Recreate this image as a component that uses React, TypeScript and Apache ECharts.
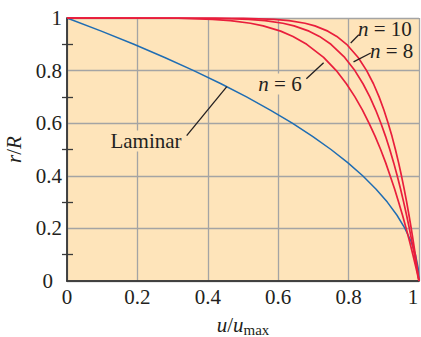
import React, { useEffect, useRef } from "react";
import * as echarts from "echarts";

// Laminar profile: r/R vs u/umax
const laminarR = [1, 0.95, 0.9, 0.85, 0.8, 0.75, 0.7, 0.65, 0.6, 0.55, 0.5, 0.45, 0.4, 0.35, 0.3, 0.25, 0.2, 0.15, 0.1, 0.05, 0];
const laminarU = [0, 0.0975, 0.19, 0.2775, 0.36, 0.4375, 0.51, 0.5775, 0.64, 0.6975, 0.75, 0.7975, 0.84, 0.8775, 0.91, 0.9375, 0.96, 0.9775, 0.99, 0.9975, 1];

// Turbulent profiles
const turbR = [1, 0.999, 0.995, 0.99, 0.98, 0.97, 0.95, 0.93, 0.9, 0.85, 0.8, 0.75, 0.7, 0.65, 0.6, 0.55, 0.5, 0.45, 0.4, 0.35, 0.3, 0.25, 0.2, 0.15, 0.1, 0.05, 0];
const n6U = [0, 0.316, 0.4135, 0.464, 0.521, 0.5574, 0.607, 0.642, 0.681, 0.729, 0.765, 0.7937, 0.818, 0.8395, 0.858, 0.8754, 0.891, 0.9052, 0.918, 0.9307, 0.942, 0.9532, 0.9635, 0.9733, 0.9826, 0.9915, 1];
const n8U = [0, 0.4217, 0.5157, 0.5623, 0.6133, 0.6451, 0.6877, 0.7172, 0.7499, 0.7889, 0.8178, 0.8409, 0.8603, 0.877, 0.8918, 0.905, 0.917, 0.928, 0.9381, 0.9476, 0.9564, 0.9647, 0.9725, 0.9799, 0.9869, 0.9936, 1];
const n10U = [0, 0.5012, 0.5887, 0.631, 0.6762, 0.7042, 0.7411, 0.7665, 0.7943, 0.8272, 0.8513, 0.8706, 0.8866, 0.9003, 0.9124, 0.9233, 0.933, 0.942, 0.9502, 0.9578, 0.965, 0.9716, 0.9779, 0.9839, 0.9895, 0.9949, 1];

// Leader lines (data coordinates)
const lamLeaderU = [0.34, 0.454];
const lamLeaderR = [0.553, 0.739];
const n6LeaderU = [0.68, 0.729];
const n6LeaderR = [0.769, 0.83];
const n8LeaderU = [0.814, 0.863];
const n8LeaderR = [0.833, 0.867];
const n10LeaderU = [0.806, 0.829];
const n10LeaderR = [0.905, 0.936];

const xTicks = [0, 0.2, 0.4, 0.6, 0.8, 1];
const yTicks = [0, 0.2, 0.4, 0.6, 0.8, 1];

const FONT = "'Liberation Serif', 'Times New Roman', serif";
const RED = "#e91e3c";
const BLUE = "#1f6db3";
const INK = "#231f20";
const BORDER = "#3a3a3a";
const GRID = "#a4a4a4";
const BG = "#fee4ba";

const pairs = (xs: number[], ys: number[]) => xs.map((x, i) => [x, ys[i]]);

export default function App() {
  const ref = useRef<HTMLDivElement>(null);
  useEffect(() => {
    document.body.style.margin = "0";
    if (!ref.current) return;
    const chart = echarts.init(ref.current, null, { renderer: "svg" });

    const curve = (data: number[][], color: string, width: number, z = 3) => ({
      type: "line",
      data,
      showSymbol: false,
      symbol: "none",
      clip: false,
      silent: true,
      z,
      lineStyle: { color, width },
    });

    const italicRich = {
      i: { fontFamily: FONT, fontStyle: "italic", fontSize: 21, color: INK },
    };

    const annText = (x: number, y: number, text: string, align: string, bg: boolean) => ({
      type: "text",
      x,
      y,
      z: 50,
      style: {
        text,
        fontFamily: FONT,
        fontSize: 21,
        fill: INK,
        align,
        verticalAlign: "middle",
        backgroundColor: bg ? BG : undefined,
        padding: bg ? [0, 2, 0, 2] : 0,
        rich: {
          i: { fontFamily: FONT, fontStyle: "italic", fontSize: 21, fill: INK, color: INK },
          t: { fontFamily: FONT, fontSize: 21, color: INK },
        },
      },
    });

    chart.setOption({
      animation: false,
      grid: {
        left: 67,
        right: 2,
        top: 18,
        bottom: 56,
        show: true,
        backgroundColor: BG,
        borderWidth: 0,
        containLabel: false,
        outerBoundsMode: "none",
      },
      xAxis: [
        {
          type: "value",
          min: xTicks[0],
          max: xTicks[xTicks.length - 1],
          interval: 0.2,
          position: "bottom",
          axisLine: { show: true, lineStyle: { color: BORDER, width: 1.5 } },
          axisTick: { show: false },
          splitLine: { show: true, lineStyle: { color: GRID, width: 1.3 } },
          axisLabel: {
            fontFamily: FONT,
            fontSize: 21,
            color: INK,
            margin: 5,
            formatter: (v: number) => (v === 1 ? "{o|1}" : String(v)),
            rich: { o: { fontFamily: FONT, fontSize: 21, color: INK, padding: [0, 12, 0, 0] } },
          },
          name: "{i|u}/{i|u}{s|max}",
          nameLocation: "middle",
          nameGap: 24,
          nameTextStyle: {
            fontFamily: FONT,
            fontSize: 21,
            color: INK,
            lineHeight: 26,
            rich: {
              i: { fontFamily: FONT, fontStyle: "italic", fontSize: 21, color: INK, lineHeight: 26 },
              s: { fontFamily: FONT, fontSize: 15, color: INK, lineHeight: 15, verticalAlign: "bottom" },
            },
          },
        },
        {
          type: "value",
          min: 0,
          max: 1,
          interval: 0.2,
          position: "top",
          axisLine: { show: true, lineStyle: { color: BORDER, width: 1.5 } },
          axisTick: { show: false },
          splitLine: { show: false },
          axisLabel: { show: false },
        },
      ],
      yAxis: [
        {
          type: "value",
          min: yTicks[0],
          max: yTicks[yTicks.length - 1],
          interval: 0.2,
          position: "left",
          axisLine: { show: true, lineStyle: { color: BORDER, width: 1.5 } },
          axisTick: { show: false, inside: true },
          minorTick: { show: true, splitNumber: 2, length: 6, lineStyle: { color: BORDER, width: 1.3 } },
          splitLine: { show: true, lineStyle: { color: GRID, width: 1.3 } },
          axisLabel: {
            fontFamily: FONT,
            fontSize: 21,
            color: INK,
            margin: 5,
            formatter: (v: number) => (v === 0 ? "{z|0}" : String(v)),
            rich: { z: { fontFamily: FONT, fontSize: 21, color: INK, padding: [0, 9, 0, 0] } },
          },
          name: "{i|r}/{i|R}",
          nameLocation: "middle",
          nameGap: 40,
          nameTextStyle: {
            fontFamily: FONT,
            fontSize: 21,
            color: INK,
            rich: italicRich,
          },
        },
        {
          type: "value",
          min: 0,
          max: 1,
          interval: 0.2,
          position: "right",
          axisLine: { show: true, lineStyle: { color: BORDER, width: 1.5 } },
          axisTick: { show: false, inside: true },
          minorTick: { show: true, splitNumber: 2, length: 5, lineStyle: { color: BORDER, width: 1.3 } },
          splitLine: { show: false },
          axisLabel: { show: false },
        },
      ],
      series: [
        curve(pairs(laminarU, laminarR), BLUE, 1.5),
        curve(pairs(n6U, turbR), RED, 1.7, 4),
        curve(pairs(n8U, turbR), RED, 1.7, 4),
        curve(pairs(n10U, turbR), RED, 1.7, 4),
        curve(pairs(lamLeaderU, lamLeaderR), INK, 1.3, 5),
        curve(pairs(n6LeaderU, n6LeaderR), INK, 1.3, 5),
        curve(pairs(n8LeaderU, n8LeaderR), INK, 1.3, 5),
        curve(pairs(n10LeaderU, n10LeaderR), INK, 1.3, 5),
      ],
      graphic: [
        annText(146, 141, "{t|Laminar}", "center", true),
        annText(280, 84, "{i|n}{t| = 6}", "center", true),
        annText(370, 51, "{i|n}{t| = 8}", "left", false),
        annText(358, 29, "{i|n}{t| = 10}", "left", false),
      ],
    } as any);
    return () => chart.dispose();
  }, []);
  return <div ref={ref} style={{ width: 421, height: 337 }} />;
}
